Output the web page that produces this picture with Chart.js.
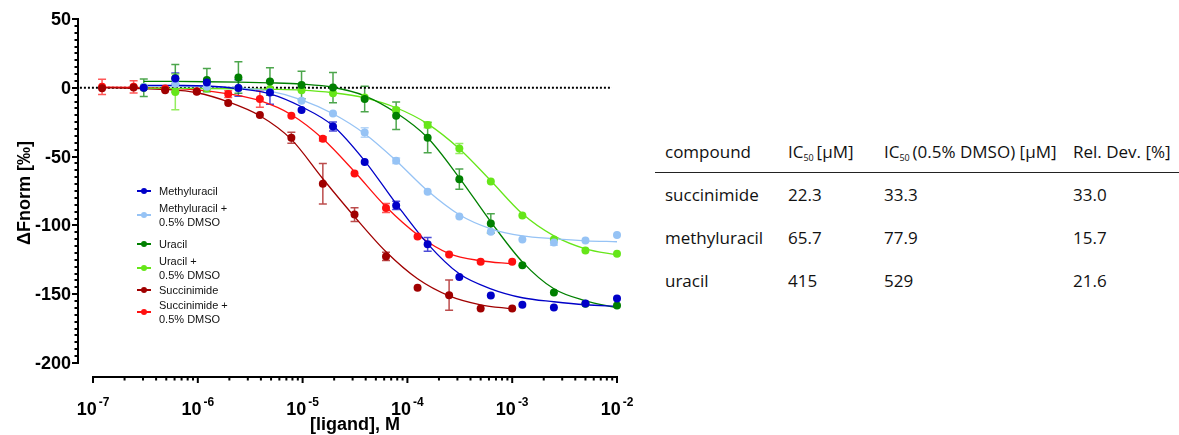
<!DOCTYPE html>
<html>
<head>
<meta charset="utf-8">
<script src="https://cdn.jsdelivr.net/npm/chart.js@4.4.1/dist/chart.umd.min.js"></script>
<style>
  body { margin: 0; width: 1179px; height: 435px; background: #fff; position: relative; overflow: hidden; }
  #wrap { position: absolute; left: 0; top: 0; width: 650px; height: 435px; }
  #legend { position: absolute; left: 137px; top: 0; font-family: "Liberation Sans", Arial, sans-serif; font-size: 11px; color: #111; }
  .item { position: absolute; left: 0; padding-left: 22px; line-height: 14px; white-space: nowrap; }
  .mark { position: absolute; left: 0; width: 14px; height: 1.5px; }
  .mark i { position: absolute; left: 3.5px; top: -2.5px; width: 6.5px; height: 6.5px; border-radius: 50%; }
  table { position: absolute; left: 655px; top: 131px; border-collapse: collapse; table-layout: fixed;
          font-family: "Open Sans", "Noto Sans", sans-serif; font-size: 17px; color: #111; }
  td { padding: 0 0 0 10px; height: 43px; vertical-align: middle; white-space: nowrap; }
  thead td { height: 41px; border-bottom: 1.5px solid #222; }
  sub { font-size: 9px; vertical-align: -3px; }
</style>
</head>
<body>
<div id="wrap"><canvas id="doseChart"></canvas></div>
<div id="legend"></div>
<table>
  <colgroup><col style="width:123px"><col style="width:96px"><col style="width:189px"><col style="width:116px"></colgroup>
  <thead><tr><td>compound</td><td>IC<sub>50</sub>&thinsp;[µM]</td><td>IC<sub>50</sub>&thinsp;(0.5% DMSO) [µM]</td><td>Rel. Dev. [%]</td></tr></thead>
  <tbody id="tbody"></tbody>
</table>
<script>
// concentrations [M]
const concLong = [3.05e-7, 6.1e-7, 1.22e-6, 2.44e-6, 4.88e-6, 9.77e-6, 1.95e-5, 3.91e-5, 7.81e-5, 1.56e-4, 3.13e-4, 6.25e-4, 1.25e-3, 2.5e-3, 5e-3, 1e-2];
const concShort = [1.22e-7, 2.44e-7, 4.88e-7, 9.77e-7, 1.95e-6, 3.91e-6, 7.81e-6, 1.56e-5, 3.13e-5, 6.25e-5, 1.25e-4, 2.5e-4, 5e-4, 1e-3];

// measured points (dF norm, per mille)
const methyluracil = [0, 6.8, 3.9, -0.2, -3.4, -16.2, -28.1, -54, -85.5, -113.8, -137.6, -151, -157.7, -159.7, -156.8, -153.1];
const methyluracilDmso = [0.5, 3, 0.7, -0.3, -3, -9.4, -18.7, -32.5, -53, -75.6, -93.6, -104.7, -110.2, -112.4, -111, -107];
const uracil = [0, 7, 5.6, 7.5, 4.6, 2, 0.2, -8.2, -20.3, -36.3, -66.4, -98.6, -128.9, -148.8, -157, -158.2];
const uracilDmso = [0.5, -3, -0.5, -0.3, -0.8, -1.7, -3.9, -7, -16.2, -27.1, -44.1, -68.1, -92.8, -110.2, -118.2, -120.6];
const succinimide = [-0.3, 0.3, -1.7, -2.9, -11.1, -19.8, -36.3, -69.8, -92.1, -122.6, -145.3, -150.7, -160.4, -160.4];
const succinimideDmso = [0.7, 0.7, -0.5, -2.5, -4.6, -8.2, -20.3, -37.1, -62.3, -87.4, -108.1, -121.1, -126.5, -126.5];

// error bars (+/-)
const errMethyluracil = [0, 4, 0, 6, 8.5, 0, 3.3, 0, 3, 5, 0, 0, 0, 0, 0, 0];
const errMethyluracilDmso = [0, 0, 0, 0, 0, 0, 0, 3.4, 2, 0, 0, 0, 0, 2, 0, 0];
const errUracil = [6.4, 10, 8.4, 11.4, 10, 10, 11, 9.3, 10, 11, 7.3, 7, 0, 0, 0, 0];
const errUracilDmso = [0, 13, 0, 0, 0, 0, 0, 0, 1.5, 2, 3.6, 0, 0, 0, 0, 0];
const errSuccinimide = [0, 0, 0, 0, 0, 0, 4, 14.7, 5, 3, 0, 11, 0, 0];
const errSuccinimideDmso = [5.5, 4.5, 0, 0, 2.5, 6, 0, 1.5, 0, 3.3, 0, 0, 0, 0];

// fitted curves at the same concentrations
const fitMethyluracil = [1.8, 1.7, 1.3, -0.7, -4.4, -13.8, -27.6, -53.1, -84.3, -113.4, -135.2, -146.1, -152.6, -155.5, -157.7, -158.9];
const fitMethyluracilDmso = [1.1, 1, 0.7, 0, -2.5, -8.7, -18.9, -33.4, -53, -74.9, -92.3, -102.5, -107.6, -109.7, -111.2, -111.9];
const fitUracil = [4.7, 4.6, 4.4, 4.1, 3.6, 2.7, 0.4, -5.8, -18.2, -36.3, -65.4, -97.4, -126.5, -146.1, -154.8, -159.9];
const fitUracilDmso = [-0.3, -0.4, -0.5, -0.7, -1.1, -1.7, -3.6, -7.3, -14.5, -26.2, -44.3, -67.6, -91.6, -107.6, -117, -121.4];
const fitSuccinimide = [0, -0.4, -1.2, -3.6, -10.2, -20.3, -37.5, -66.1, -93.7, -119.2, -138.8, -151.2, -157.7, -160.6];
const fitSuccinimideDmso = [0.4, 0.3, -0.4, -1.5, -4.4, -9.4, -19.6, -37.1, -61, -86.5, -106.8, -120.5, -125.7, -127.9];

const baselineRange = [7.5e-8, 8.95e-3];
const yTicks = [50, 0, -50, -100, -150, -200];
const xDecades = [-7, -6, -5, -4, -3, -2];

const seriesNames = ['Methyluracil', 'Methyluracil +\n0.5% DMSO', 'Uracil', 'Uracil +\n0.5% DMSO', 'Succinimide', 'Succinimide +\n0.5% DMSO'];
const seriesColors = ['#0000c8', '#96c3f5', '#008000', '#66e619', '#a00000', '#ff1010'];

// table
const compounds = ['succinimide', 'methyluracil', 'uracil'];
const ic50 = ['22.3', '65.7', '415'];
const ic50Dmso = ['33.3', '77.9', '529'];
const relDev = ['33.0', '15.7', '21.6'];

const points = [methyluracil, methyluracilDmso, uracil, uracilDmso, succinimide, succinimideDmso];
const errors = [errMethyluracil, errMethyluracilDmso, errUracil, errUracilDmso, errSuccinimide, errSuccinimideDmso];
const fits = [fitMethyluracil, fitMethyluracilDmso, fitUracil, fitUracilDmso, fitSuccinimide, fitSuccinimideDmso];
const concOf = [concLong, concLong, concLong, concLong, concShort, concShort];

const pts = (xs, ys) => ys.map((v, i) => ({ x: xs[i], y: v }));

const datasets = [{
    data: baselineRange.map(v => ({ x: v, y: 0 })),
    borderColor: '#000', borderWidth: 2, borderDash: [2, 2],
    pointRadius: 0, order: 10
}];
fits.forEach((f, i) => datasets.push({
    data: pts(concOf[i], f),
    borderColor: seriesColors[i], borderWidth: 1.3,
    pointRadius: 0, cubicInterpolationMode: 'monotone', order: 5
}));
points.forEach((p, i) => datasets.push({
    data: pts(concOf[i], p),
    showLine: false, errors: errors[i],
    pointRadius: 4, pointBorderWidth: 0,
    pointBackgroundColor: seriesColors[i], pointBorderColor: seriesColors[i], order: 1
}));

function withAlpha(hex, a) {
    const n = parseInt(hex.slice(1), 16);
    return 'rgba(' + (n >> 16) + ',' + ((n >> 8) & 255) + ',' + (n & 255) + ',' + a + ')';
}

const errorBars = {
    id: 'errorBars',
    beforeDatasetsDraw(chart) {
        const { ctx, scales: { x, y } } = chart;
        ctx.save();
        ctx.lineWidth = 1.5;
        chart.data.datasets.forEach((ds, k) => {
            if (!ds.errors) return;
            ctx.strokeStyle = withAlpha(ds.pointBackgroundColor, 0.7);
            ds.data.forEach((p, i) => {
                const e = ds.errors[i];
                if (!e) return;
                const px = x.getPixelForValue(p.x);
                const top = y.getPixelForValue(p.y + e), bot = y.getPixelForValue(p.y - e);
                ctx.beginPath();
                ctx.moveTo(px, top); ctx.lineTo(px, bot);
                ctx.moveTo(px - 4, top); ctx.lineTo(px + 4, top);
                ctx.moveTo(px - 4, bot); ctx.lineTo(px + 4, bot);
                ctx.stroke();
            });
        });
        ctx.restore();
    }
};

// GraphPad style offset axes
const axes = {
    id: 'axes',
    afterDraw(chart) {
        const { ctx, scales: { x, y }, chartArea } = chart;
        const ax = chartArea.left, ay = chartArea.bottom;
        ctx.save();
        ctx.strokeStyle = '#000'; ctx.fillStyle = '#000'; ctx.lineWidth = 2;
        const yTop = y.getPixelForValue(yTicks[0]), yBot = y.getPixelForValue(yTicks[yTicks.length - 1]);
        ctx.beginPath();
        ctx.moveTo(ax, yTop - 1); ctx.lineTo(ax, yBot + 1);
        for (let v = yTicks[yTicks.length - 1]; v <= yTicks[0]; v += 5) {
            const py = Math.round(y.getPixelForValue(v));
            const major = v % 50 === 0;
            ctx.moveTo(ax, py); ctx.lineTo(ax - (major ? 6 : 3.5), py);
        }
        ctx.stroke();
        ctx.font = 'bold 18px "Liberation Sans", Arial, sans-serif';
        ctx.textAlign = 'right'; ctx.textBaseline = 'middle';
        yTicks.forEach(v => ctx.fillText(String(v), ax - 7, y.getPixelForValue(v) + 1));

        const xL = x.getPixelForValue(Math.pow(10, xDecades[0]));
        const xR = x.getPixelForValue(Math.pow(10, xDecades[xDecades.length - 1]));
        ctx.beginPath();
        ctx.moveTo(xL - 1, ay); ctx.lineTo(xR + 1, ay);
        xDecades.forEach((d, k) => {
            const px = x.getPixelForValue(Math.pow(10, d));
            ctx.moveTo(px, ay); ctx.lineTo(px, ay + 6);
            if (k < xDecades.length - 1) {
                for (let m = 2; m <= 9; m++) {
                    const mx = x.getPixelForValue(m * Math.pow(10, d));
                    ctx.moveTo(mx, ay); ctx.lineTo(mx, ay + 3.5);
                }
            }
        });
        ctx.stroke();
        ctx.textAlign = 'left'; ctx.textBaseline = 'alphabetic';
        xDecades.forEach(d => {
            const px = x.getPixelForValue(Math.pow(10, d));
            ctx.font = 'bold 18px "Liberation Sans", Arial, sans-serif';
            const w1 = ctx.measureText('10').width;
            ctx.font = 'bold 12px "Liberation Sans", Arial, sans-serif';
            const w2 = ctx.measureText(String(d)).width;
            const x0 = px - (w1 + w2 + 2) / 2;
            ctx.font = 'bold 18px "Liberation Sans", Arial, sans-serif';
            ctx.fillText('10', x0, ay + 38);
            ctx.font = 'bold 12px "Liberation Sans", Arial, sans-serif';
            ctx.fillText(String(d), x0 + w1 + 2, ay + 29);
        });

        ctx.font = 'bold 18px "Liberation Sans", Arial, sans-serif';
        ctx.textAlign = 'center'; ctx.textBaseline = 'middle';
        ctx.fillText('[ligand], M', (xL + xR) / 2, ay + 48);
        ctx.translate(25, (yTop + yBot) / 2 + 2);
        ctx.rotate(-Math.PI / 2);
        ctx.fillText('ΔFnorm [‰]', 0, 0);
        ctx.restore();
    }
};

new Chart(document.getElementById('doseChart'), {
    type: 'line',
    data: { datasets: datasets },
    options: {
        responsive: true, maintainAspectRatio: false, animation: false,
        clip: false,
        layout: { padding: { left: 78, right: 33, top: 19, bottom: 58 } },
        datasets: { line: { clip: false } },
        scales: {
            x: { type: 'logarithmic', min: 7.19e-8, max: 1e-2, display: false },
            y: { type: 'linear', min: -210.2, max: 50, display: false }
        },
        plugins: { legend: { display: false }, tooltip: { enabled: false } }
    },
    plugins: [errorBars, axes]
});

// legend (html so the two-line labels wrap like the original)
const legendTops = [184, 201, 237, 254, 283, 298];
const legend = document.getElementById('legend');
seriesNames.forEach((name, i) => {
    const lines = name.split('\n');
    const item = document.createElement('div');
    item.className = 'item';
    item.style.top = legendTops[i] + 'px';
    item.innerHTML = lines.join('<br>');
    const mark = document.createElement('span');
    mark.className = 'mark';
    mark.style.background = seriesColors[i];
    mark.style.top = (lines.length * 7 - 0.75) + 'px';
    const dot = document.createElement('i');
    dot.style.background = seriesColors[i];
    mark.appendChild(dot);
    item.appendChild(mark);
    legend.appendChild(item);
});

const tbody = document.getElementById('tbody');
compounds.forEach((c, i) => {
    const tr = document.createElement('tr');
    [c, ic50[i], ic50Dmso[i], relDev[i]].forEach(t => {
        const td = document.createElement('td');
        td.textContent = t;
        tr.appendChild(td);
    });
    tbody.appendChild(tr);
});
</script>
</body>
</html>
